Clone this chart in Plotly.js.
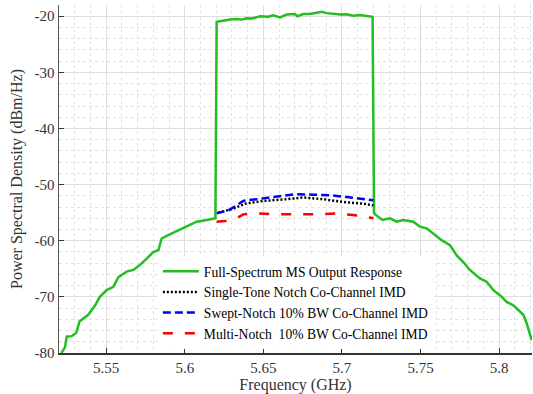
<!DOCTYPE html>
<html>
<head>
<meta charset="utf-8">
<script src="https://cdn.plot.ly/plotly-3.0.1.min.js"></script>
<style>html,body{margin:0;padding:0;background:#fff;}#chart{width:533px;height:394px;}</style>
</head>
<body>
<div id="chart"></div>
<script>
// Full-spectrum MS output response
const fullFreq = [5.5215,5.5238,5.5249,5.528,5.531,5.533,5.5386,5.543,5.546,5.5503,5.5546,5.5577,5.5598,5.563,5.5673,5.5715,5.5758,5.58,5.5832,5.5853,5.5895,5.5938,5.598,5.6023,5.6076,5.614,5.6195,
  5.6203,5.6245,5.6288,5.633,5.6362,5.6394,5.643,5.6479,5.6532,5.6563,5.6606,5.6648,5.6702,5.6716,5.6754,5.6797,5.6839,5.6871,5.6903,5.6945,5.6987,5.703,5.7072,5.7114,5.7157,5.7195,
  5.7204,5.7215,5.7257,5.7306,5.7348,5.739,5.7454,5.7496,5.7539,5.758,5.7634,5.7687,5.773,5.7772,5.7814,5.7878,5.792,5.7963,5.8005,5.8048,5.809,5.8154,5.8175,5.8207];
const fullPSD = [-80,-79,-77.1,-77,-76.4,-74.4,-73.2,-71.5,-70,-68.8,-68.2,-66.5,-66.1,-65.5,-65.2,-64.3,-63.2,-62,-61.7,-59.6,-59,-58.4,-57.8,-57.2,-56.6,-56.3,-56.0,
  -21.0,-20.75,-20.6,-20.5,-20.6,-20.35,-20.4,-20.0,-20.1,-19.85,-20.2,-19.7,-19.6,-20.0,-19.6,-19.6,-19.35,-19.2,-19.45,-19.55,-19.7,-19.65,-19.9,-19.8,-19.9,-20.1,
  -55.1,-55.4,-56.3,-56.0,-56.6,-56.3,-56.6,-57.5,-57.8,-58.7,-59.9,-60.8,-62.6,-63.8,-65.2,-66.7,-67.3,-68.8,-69.7,-70.9,-71.5,-73.2,-74.7,-77.7];

// Single-tone notch co-channel IMD
const singleFreq = [5.6213,5.6308,5.6383,5.65,5.6627,5.6754,5.6881,5.7008,5.7136,5.72];
const singlePSD  = [-55.0,-54.3,-53.4,-52.9,-52.65,-52.3,-52.6,-53.1,-53.4,-53.7];

// Swept-notch 10% BW co-channel IMD
const sweptFreq = [5.6203,5.6277,5.633,5.6372,5.6458,5.6585,5.6712,5.6818,5.6924,5.703,5.7136,5.72];
const sweptPSD  = [-55.1,-54.6,-53.7,-52.9,-52.6,-52.2,-51.7,-51.8,-51.9,-52.2,-52.5,-52.8];

// Multi-notch 10% BW co-channel IMD
const multiFreq = [5.6203,5.6256,5.633,5.6372,5.6458,5.6585,5.6712,5.6839,5.6966,5.7072,5.72];
const multiPSD  = [-56.6,-56.5,-56.0,-55.3,-55.15,-55.3,-55.3,-55.3,-55.15,-55.4,-56.0];

const seriesNames = ['Full-Spectrum MS Output Response','Single-Tone Notch Co-Channel IMD','Swept-Notch 10% BW Co-Channel IMD','Multi-Notch  10% BW Co-Channel IMD'];
const xTicks = [5.55,5.6,5.65,5.7,5.75,5.8];
const yTicks = [-80,-70,-60,-50,-40,-30,-20];

const font = 'Times New Roman';
const traces = [
  {x: fullFreq, y: fullPSD, name: seriesNames[0], mode: 'lines', line: {color: 'rgb(34,190,34)', width: 2.5}},
  {x: singleFreq, y: singlePSD, name: seriesNames[1], mode: 'lines', line: {color: '#000', width: 2.5, dash: '2px,2px'}},
  {x: sweptFreq, y: sweptPSD, name: seriesNames[2], mode: 'lines', line: {color: '#0000ff', width: 2.5, dash: '8px,4px'}},
  {x: multiFreq, y: multiPSD, name: seriesNames[3], mode: 'lines', line: {color: '#ff0000', width: 2.5, dash: '10px,12px'}}
];
const layout = {
  width: 533, height: 394,
  margin: {l: 59, r: 1, t: 5, b: 41},
  paper_bgcolor: '#fff', plot_bgcolor: '#fff',
  font: {family: font, color: '#222'},
  showlegend: true,
  legend: {x: 0.209, y: 0.279, xanchor: 'left', yanchor: 'top', bgcolor: '#fff',
    font: {family: font, size: 13.6, color: '#000'}, tracegroupgap: 0, itemwidth: 36},
  xaxis: {
    range: [5.52, 5.8209], tickvals: xTicks, ticktext: xTicks.map(String),
    ticks: 'inside', ticklen: 5, tickcolor: '#333', showline: true, linecolor: '#333', linewidth: 1.5,
    showgrid: true, gridcolor: '#dedede', gridwidth: 1, zeroline: false,
    minor: {dtick: 0.01, tick0: 5.52, showgrid: true, gridcolor: '#e2e2e2', griddash: 'dot', gridwidth: 1},
    tickfont: {family: font, size: 15, color: '#333'},
    title: {text: 'Frequency (GHz)', font: {family: font, size: 16, color: '#333'}, standoff: 4}
  },
  yaxis: {
    range: [-80, -18], tickvals: yTicks, ticktext: yTicks.map(String),
    ticks: 'inside', ticklen: 5, tickcolor: '#333', showline: true, linecolor: '#555', linewidth: 1.5,
    showgrid: true, gridcolor: '#dedede', gridwidth: 1, zeroline: false,
    minor: {dtick: 2, tick0: -80, showgrid: true, gridcolor: '#e2e2e2', griddash: 'dot', gridwidth: 1},
    tickfont: {family: font, size: 15, color: '#333'},
    title: {text: 'Power Spectral Density (dBm/Hz)', font: {family: font, size: 16, color: '#333'}, standoff: 8}
  }
};
Plotly.newPlot('chart', traces, layout, {displayModeBar: false, staticPlot: true});
</script>
</body>
</html>
